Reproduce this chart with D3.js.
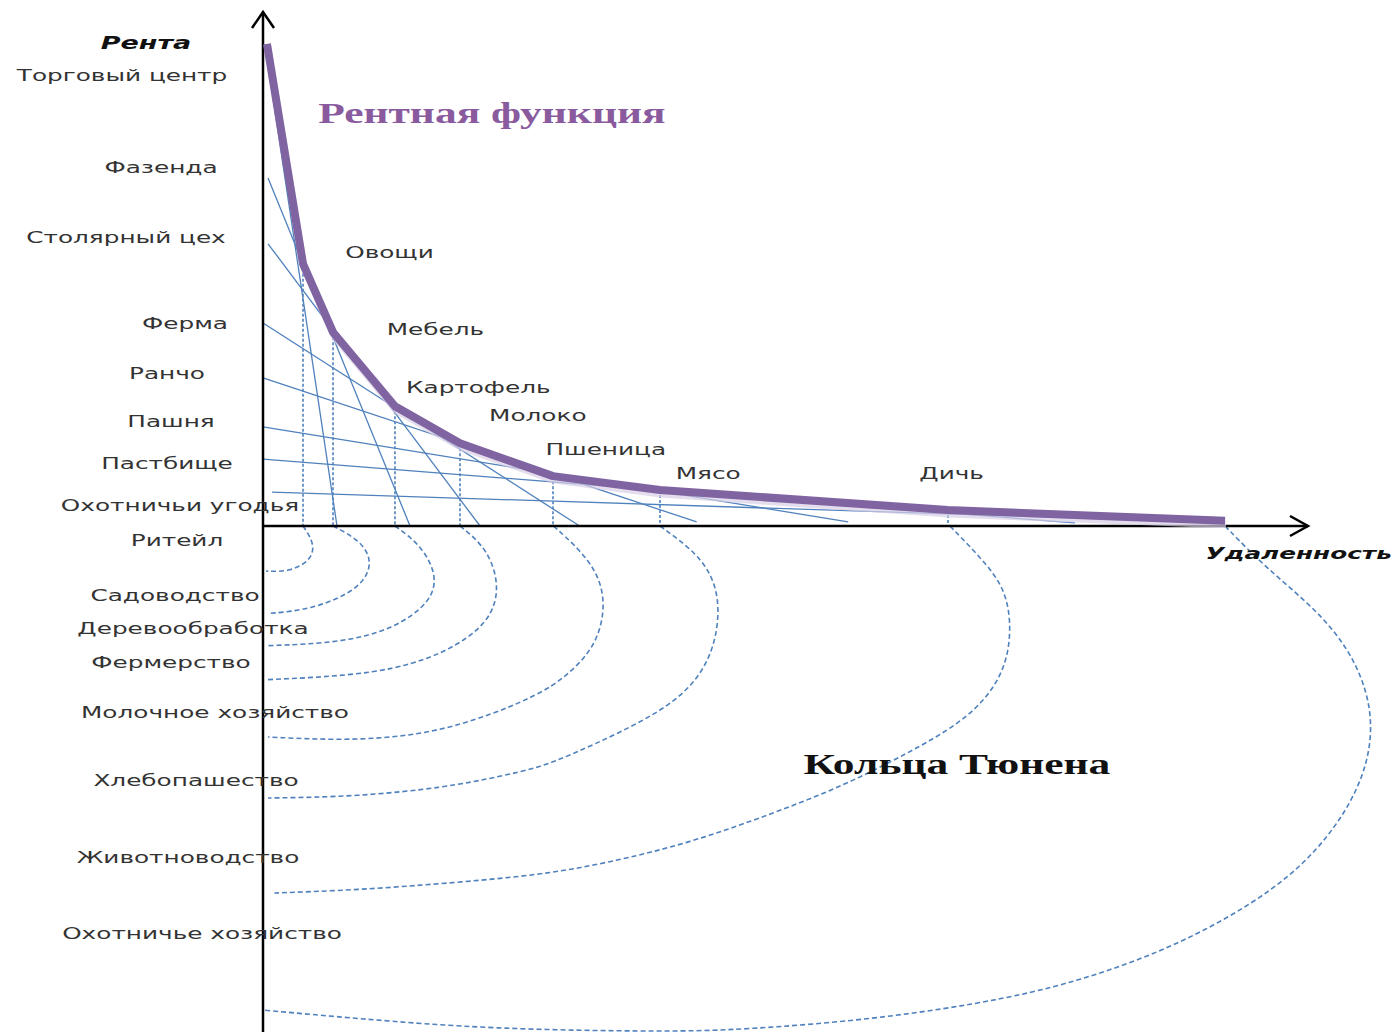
<!DOCTYPE html>
<html>
<head>
<meta charset="utf-8">
<script src="https://cdn.jsdelivr.net/npm/d3@7.9.0/dist/d3.min.js"></script>
<style>
  body { margin: 0; background: #fff; }
  svg { display: block; }
</style>
</head>
<body>
<svg id="chart"></svg>
<script>
const width = 1395;
const height = 1032;

// rent function (envelope) vertices: [distance, rent]
const rentCurve = [
  [0.38, 93.8], [3.83, 51.0], [6.70, 37.7], [12.63, 23.3], [18.85, 16.1],
  [27.75, 9.7], [37.99, 7.0], [65.55, 3.1], [92.06, 1.0]
];

// activities on the rent axis and their bid-rent lines [d0, r0, d1, r1]
const activities = [
  'Торговый центр', 'Фазенда', 'Столярный цех', 'Ферма',
  'Ранчо', 'Пашня', 'Пастбище', 'Охотничьи угодья'
];
const activityRent = [87.7, 69.8, 56.2, 39.5, 29.8, 20.4, 12.3, 4.1];
const bidLines = [
  [0.2, 93.6, 7.08, 0],
  [0.48, 67.7, 14.07, 0],
  [0.48, 54.9, 20.77, 0],
  [0, 39.5, 30.3, 0],
  [0, 28.8, 41.5, 0.8],
  [0, 19.3, 56.0, 0.8],
  [0, 13.0, 77.7, 0.6],
  [0.86, 6.6, 92.06, 0.6]
];

// products along the rent curve: name, [distance, rent]
const products = ['Овощи', 'Мебель', 'Картофель', 'Молоко', 'Пшеница', 'Мясо', 'Дичь'];
const productPos = [
  [12.1, 53.3], [16.5, 38.3], [20.6, 27.0], [26.3, 21.6],
  [32.8, 15.0], [42.6, 10.3], [65.9, 10.3]
];

// land uses below the axis (map depth)
const landUses = [
  'Ритейл', 'Садоводство', 'Деревообработка', 'Фермерство',
  'Молочное хозяйство', 'Хлебопашество', 'Животноводство', 'Охотничье хозяйство'
];
const landUseDepth = [1.34, 6.6, 9.76, 13.0, 17.8, 24.3, 31.7, 39.0];

// Thünen rings: [distance, depth] points
const rings = [
  [[3.83, 0], [4.9, 1.6], [4.7, 3.2], [2.6, 4.4], [0.29, 4.31]],
  [[6.70, 0], [9.2, 1.3], [10.6, 3.35], [9.4, 6.0], [4.74, 8.0], [0.48, 8.38]],
  [[12.63, 0], [15.02, 1.72], [16.7, 4.65], [16.1, 7.3], [12.44, 9.9], [7.27, 11.2], [0.25, 11.46]],
  [[18.85, 0], [21.4, 2.06], [22.7, 5.62], [21.8, 9.2], [17.5, 12.2], [11.15, 14.2], [0.48, 14.7]],
  [[27.8, 0], [31.4, 3.25], [32.9, 6.8], [32.1, 11.2], [29.3, 14.2], [26.1, 16.4],
   [17.55, 19.7], [9.0, 20.6], [0.48, 20.19]],
  [[37.99, 0], [41.53, 2.58], [43.2, 5.17], [43.7, 8.04], [43.2, 11.58], [41.6, 14.74],
   [38.66, 17.4], [33.88, 19.9], [29.67, 21.8], [26.51, 23.1], [22.5, 24.0], [17.51, 25.0],
   [9.0, 25.9], [0.48, 26.03]],
  [[65.74, 0], [68.9, 3.25], [70.9, 5.84], [71.6, 9.0], [71.3, 12.82], [69.7, 15.98],
   [66.8, 18.85], [61.63, 21.8], [55.22, 25.0], [48.8, 27.5], [40.86, 30.33],
   [32.92, 32.25], [26.51, 33.4], [17.51, 34.2], [9.0, 34.83], [1.1, 35.12]],
  [[92.06, 0], [95.98, 4.02], [101.1, 8.23], [104.6, 12.73], [106.4, 18.28], [105.5, 24.11],
   [102.0, 29.95], [96.84, 34.9], [88.39, 39.75], [79.9, 43.0], [71.45, 45.25],
   [58.76, 47.2], [46.03, 48.2], [38.9, 48.4], [21.82, 48.15], [9.0, 47.14], [0, 46.32]]
];

// layout: label centres (px) for the hand-placed left labels
const activityLabelX = [122, 161, 126, 185, 167, 171, 167, 180];
const landUseLabelX = [177, 175, 193, 171, 215, 196, 188, 202];

const blue = '#4f81bd';
const purple = '#8064a2';
const stretch = 1.5;

const svg = d3.select('#chart')
  .attr('width', width)
  .attr('height', height);

const x = d3.scaleLinear().domain([0, 100]).range([263, 1308]);
const y = d3.scaleLinear().domain([0, 100]).range([526, 12]);
const depth = d3.scaleLinear().domain([0, 100]).range([526, 1571]);

// BID-RENT LINES
svg.append('g')
  .selectAll('line')
  .data(bidLines)
  .join('line')
  .attr('x1', d => x(d[0]))
  .attr('y1', d => y(d[1]))
  .attr('x2', d => x(d[2]))
  .attr('y2', d => y(d[3]))
  .attr('stroke', blue)
  .attr('stroke-width', 1.3);

// DROP LINES at each switch point
svg.append('g')
  .selectAll('line')
  .data(rentCurve.slice(1, -1))
  .join('line')
  .attr('x1', d => x(d[0]))
  .attr('x2', d => x(d[0]))
  .attr('y1', d => y(d[1]))
  .attr('y2', y(0))
  .attr('stroke', blue)
  .attr('stroke-width', 1.6)
  .attr('stroke-dasharray', '3,2');

// RINGS
const ringLine = d3.line()
  .x(d => x(d[0]))
  .y(d => depth(d[1]))
  .curve(d3.curveBasis);

svg.append('g')
  .selectAll('path')
  .data(rings)
  .join('path')
  .attr('d', ringLine)
  .attr('fill', 'none')
  .attr('stroke', blue)
  .attr('stroke-width', 1.6)
  .attr('stroke-dasharray', '5,3');

// AXES
const ax = svg.append('g')
  .attr('stroke', '#000')
  .attr('stroke-width', 2.5)
  .attr('fill', 'none');

ax.append('line')
  .attr('x1', x(0)).attr('x2', x(0))
  .attr('y1', height).attr('y2', y(100));
ax.append('path')
  .attr('d', `M${x(0) - 11},${y(100) + 16}L${x(0)},${y(100)}L${x(0) + 11},${y(100) + 16}`);

ax.append('line')
  .attr('x1', x(0)).attr('x2', x(100))
  .attr('y1', y(0)).attr('y2', y(0));
ax.append('path')
  .attr('d', `M${x(100) - 18},${y(0) - 10}L${x(100)},${y(0)}L${x(100) - 18},${y(0) + 10}`);

// RENT FUNCTION (with a soft shade underneath)
const rentLine = d3.line().x(d => x(d[0])).y(d => y(d[1]));

svg.append('path')
  .datum(rentCurve)
  .attr('d', rentLine)
  .attr('transform', 'translate(1,4)')
  .attr('fill', 'none')
  .attr('stroke', '#d9cfe6')
  .attr('stroke-width', 7)
  .attr('stroke-linejoin', 'round')
  .attr('opacity', 0.7);

svg.append('path')
  .datum(rentCurve)
  .attr('d', rentLine)
  .attr('fill', 'none')
  .attr('stroke', purple)
  .attr('stroke-width', 8)
  .attr('stroke-linejoin', 'round');

// TEXT
function label(g, px, py, text, font, size, weight, style, fill) {
  g.append('text')
    .attr('transform', `translate(${px},${py}) scale(${stretch},1)`)
    .attr('text-anchor', 'middle')
    .attr('dy', '0.35em')
    .style('font-family', font)
    .style('font-size', `${size}px`)
    .style('font-weight', weight)
    .style('font-style', style)
    .attr('fill', fill)
    .text(text);
}

const txt = svg.append('g');
const sans = '"DejaVu Sans", sans-serif';
const serif = '"Liberation Serif", "Times New Roman", serif';

activities.forEach((a, i) =>
  label(txt, activityLabelX[i], y(activityRent[i]), a, sans, 16.5, 400, 'normal', '#333'));

landUses.forEach((a, i) =>
  label(txt, landUseLabelX[i], depth(landUseDepth[i]), a, sans, 16.5, 400, 'normal', '#333'));

products.forEach((p, i) =>
  label(txt, x(productPos[i][0]), y(productPos[i][1]), p, sans, 16.5, 400, 'normal', '#333'));

label(txt, x(-11.2), y(94.1), 'Рента', sans, 18, 700, 'italic', '#111');
label(txt, x(99.1), depth(2.6), 'Удаленность', sans, 16.5, 700, 'italic', '#111');

label(txt, x(21.9), y(80.4), 'Рентная функция', serif, 29, 700, 'normal', '#8a5a9e');
label(txt, x(66.4), depth(22.8), 'Кольца Тюнена', serif, 29, 700, 'normal', '#111');
</script>
</body>
</html>
